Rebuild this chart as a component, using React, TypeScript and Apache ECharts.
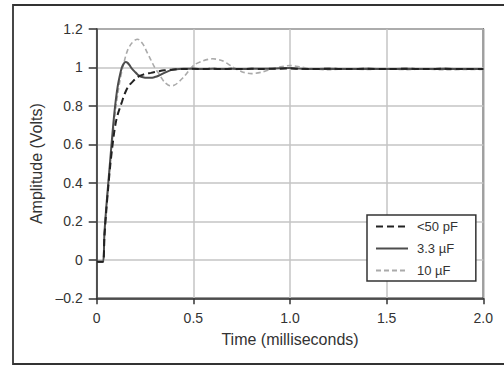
import React, { useEffect, useRef } from "react";
import * as echarts from "echarts";

const timeMs = [
  0, 0.02, 0.033, 0.04, 0.05, 0.06, 0.07, 0.08, 0.09, 0.1, 0.11, 0.12, 0.13, 0.14, 0.15, 0.16, 0.17, 0.18,
  0.2, 0.21, 0.22, 0.24, 0.26, 0.28, 0.3, 0.32, 0.35, 0.38, 0.4, 0.45, 0.5, 0.55, 0.6, 0.65, 0.7, 0.75,
  0.8, 0.85, 0.9, 0.95, 1.0, 1.05, 1.1, 1.2, 1.3, 1.4, 1.5, 1.6, 1.7, 1.8, 1.9, 2.0,
];

const seriesNames = ["<50 pF", "3.3 µF", "10 µF"];

const pF50 = [
  -0.01, -0.01, -0.01, 0.12, 0.26, 0.38, 0.49, 0.58, 0.66, 0.72, 0.76, 0.79, 0.82, 0.85, 0.875, 0.895, 0.91, 0.92,
  0.94, 0.948, 0.955, 0.963, 0.968, 0.972, 0.976, 0.98, 0.985, 0.988, 0.99, 0.992, 0.993, 0.992, 0.993, 0.992, 0.993, 0.992,
  0.993, 0.992, 0.993, 0.994, 0.995, 0.993, 0.992, 0.993, 0.992, 0.993, 0.992, 0.993, 0.992, 0.993, 0.992, 0.992,
];

const uF33 = [
  -0.01, -0.01, -0.01, 0.14, 0.28, 0.4, 0.52, 0.64, 0.75, 0.84, 0.91, 0.96, 1.0, 1.02, 1.028, 1.024, 1.012, 0.997,
  0.975, 0.965, 0.957, 0.949, 0.946, 0.946, 0.95, 0.957, 0.972, 0.985, 0.99, 0.993, 0.993, 0.992, 0.993, 0.992, 0.993, 0.992,
  0.993, 0.993, 0.994, 0.996, 0.997, 0.994, 0.992, 0.993, 0.992, 0.993, 0.992, 0.993, 0.992, 0.993, 0.992, 0.992,
];

const uF10 = [
  -0.01, -0.01, -0.01, 0.13, 0.27, 0.39, 0.5, 0.61, 0.71, 0.8, 0.87, 0.93, 0.98, 1.02, 1.06, 1.09, 1.11, 1.125,
  1.143, 1.147, 1.143, 1.12, 1.08, 1.04, 1.0, 0.97, 0.925, 0.905, 0.907, 0.95, 1.01, 1.035, 1.045, 1.035, 1.005, 0.978,
  0.968, 0.975, 0.99, 1.003, 1.01, 1.004, 0.995, 0.988, 0.993, 0.99, 0.992, 0.989, 0.992, 0.988, 0.99, 0.99,
];

const toPairs = (vals: number[]) => vals.map((v, i) => [timeMs[i], v]);

const FONT = "'Liberation Sans', Arial, Helvetica, sans-serif";
const TEXT = "#333";

export default function App() {
  const ref = useRef<HTMLDivElement>(null);
  useEffect(() => {
    if (!ref.current) return;
    const chart = echarts.init(ref.current, null, { renderer: "svg" });
    chart.setOption({
      animation: false,
      backgroundColor: "#fff",
      textStyle: { fontFamily: FONT },
      graphic: [
        {
          type: "rect",
          shape: { x: 13, y: 5, width: 500, height: 359 },
          style: { fill: "none", stroke: "#333", lineWidth: 1.8 },
          silent: true,
          z: 0,
        },
      ],
      grid: {
        left: 96.7,
        right: 20.7,
        top: 29,
        bottom: 67.7,
        show: true,
        borderColor: "#333",
        borderWidth: 1.5,
        backgroundColor: "transparent",
      },
      legend: {
        orient: "vertical",
        left: 367,
        top: 215,
        itemWidth: 32,
        itemHeight: 14,
        itemGap: 9,
        padding: [5, 18, 4, 8],
        borderColor: "#333",
        borderWidth: 1.5,
        backgroundColor: "#fff",
        itemStyle: { opacity: 0 },
        textStyle: { fontSize: 13, color: TEXT, fontFamily: FONT, padding: [0, 0, 0, 4] },
        data: seriesNames,
      },
      xAxis: {
        type: "value",
        min: 0,
        max: 2,
        interval: 0.5,
        name: "Time (milliseconds)",
        nameLocation: "middle",
        nameGap: 33,
        nameTextStyle: { fontSize: 16, color: TEXT, fontFamily: FONT },
        axisLine: { show: true, onZero: false, lineStyle: { color: "#333", width: 1.5 } },
        axisTick: { show: true, length: 6, lineStyle: { color: "#333", width: 1.5 } },
        axisLabel: {
          fontSize: 14,
          color: TEXT,
          fontFamily: FONT,
          margin: 13,
          formatter: (v: number) => (Math.abs(v) < 1e-9 ? "0" : v.toFixed(1)),
        },
        splitLine: { show: true, lineStyle: { color: "#c4c4c4", width: 1.5 } },
      },
      yAxis: {
        type: "value",
        min: -0.2,
        max: 1.2,
        interval: 0.2,
        name: "Amplitude (Volts)",
        nameLocation: "middle",
        nameGap: 50,
        nameTextStyle: { fontSize: 16, color: TEXT, fontFamily: FONT },
        axisLine: { show: true, onZero: false, lineStyle: { color: "#333", width: 1.5 } },
        axisTick: { show: true, length: 8, lineStyle: { color: "#333", width: 1.5 } },
        axisLabel: {
          fontSize: 14,
          color: TEXT,
          fontFamily: FONT,
          margin: 14,
          formatter: (v: number) => {
            const r = Math.round(v * 10) / 10;
            if (r === 0) return "0";
            if (r === 1) return "1";
            return (r < 0 ? "\u2013" : "") + Math.abs(r).toFixed(1);
          },
        },
        splitLine: { show: true, lineStyle: { color: "#c4c4c4", width: 1.5 } },
      },
      series: [
        {
          name: seriesNames[2],
          type: "line",
          data: toPairs(uF10),
          symbol: "none",
          smooth: 0.3,
          z: 2,
          lineStyle: { color: "#aaaaaa", width: 1.6, type: [5, 3] },
          itemStyle: { color: "#aaaaaa" },
        },
        {
          name: seriesNames[1],
          type: "line",
          data: toPairs(uF33),
          symbol: "none",
          smooth: 0.3,
          z: 3,
          lineStyle: { color: "#4d4d4d", width: 2 },
          itemStyle: { color: "#4d4d4d" },
        },
        {
          name: seriesNames[0],
          type: "line",
          data: toPairs(pF50),
          symbol: "none",
          smooth: 0.3,
          z: 4,
          lineStyle: { color: "#222", width: 2, type: [7, 4] },
          itemStyle: { color: "#222" },
        },
      ],
    });
    return () => chart.dispose();
  }, []);
  return (
    <div
      ref={ref}
      style={{ position: "absolute", left: 0, top: 0, width: 504, height: 366 }}
    />
  );
}
